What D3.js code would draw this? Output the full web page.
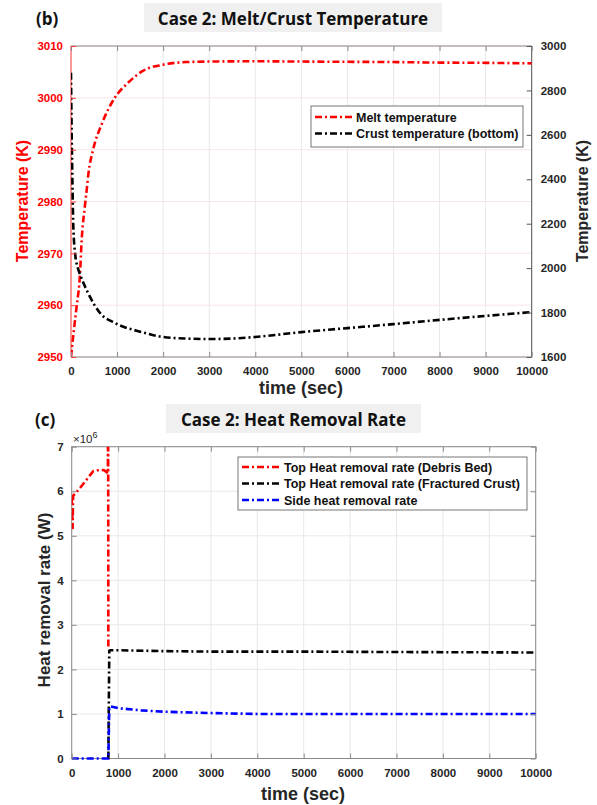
<!DOCTYPE html>
<html>
<head>
<meta charset="utf-8">
<script src="https://d3js.org/d3.v7.min.js"></script>
<style>
  body { margin: 0; background: #fff; }
  svg { display: block; }
  .tick text { font-family: "Liberation Sans", Arial, sans-serif; font-weight: bold; font-size: 11.5px; }
</style>
</head>
<body>
<svg id="chart" width="597" height="805"></svg>
<script>
// ---- data (b) melt / crust temperature ----
var meltTime = [0, 60, 120, 195, 232, 300, 340, 380, 480, 670, 950, 1250, 1560, 2000, 2500, 3000, 4000, 5000, 6000, 7000, 8000, 9000, 10000];
var meltTemp = [2950, 2955, 2959.6, 2966, 2972.6, 2979, 2982.2, 2985.5, 2990, 2995, 3000, 3003, 3005.2, 3006.4, 3006.9, 3007, 3007.05, 3007, 3006.95, 3006.9, 3006.8, 3006.75, 3006.65];
var crustTime = [0, 15, 30, 50, 90, 150, 200, 370, 630, 955, 1540, 2000, 2500, 3000, 3500, 4000, 5000, 6000, 7000, 8000, 9000, 10000];
var crustTemp = [2880, 2600, 2400, 2190, 2065, 2000, 1970, 1888, 1798, 1753, 1712, 1690, 1683, 1681, 1683, 1690, 1712, 1730, 1748, 1767, 1785, 1802];
var leftTicks = [2950, 2960, 2970, 2980, 2990, 3000, 3010];
var rightTicks = [1600, 1800, 2000, 2200, 2400, 2600, 2800, 3000];
var timeTicks = [0, 1000, 2000, 3000, 4000, 5000, 6000, 7000, 8000, 9000, 10000];

// ---- data (c) heat removal rate, x10^6 W ----
var debrisTime = [0, 10, 20, 30, 70, 200, 350, 465, 600, 700, 760, 780, 785, 790];
var debrisRate = [5.85, 5.5, 5.15, 5.9, 5.94, 6.1, 6.3, 6.45, 6.48, 6.47, 6.42, 6.4, 9.0, 2.45];
var fcrustTime = [790, 810, 830, 1000, 2000, 3000, 5000, 7000, 10000];
var fcrustRate = [0, 2.42, 2.43, 2.43, 2.41, 2.40, 2.40, 2.39, 2.38];
var sideTime = [0, 790, 810, 825, 1000, 1500, 2000, 3000, 4000, 5000, 7000, 10000];
var sideRate = [0, 0, 1.15, 1.17, 1.13, 1.08, 1.05, 1.02, 1.0, 1.0, 1.0, 1.0];
var rateTicks = [0, 1, 2, 3, 4, 5, 6, 7];

var svg = d3.select("#chart");
var dash = "7,3,2,3";
var textCol = "#262626";
var spineCol = "#8a8a8a";
var gridCol = "#e8e8e8";

function zip(xs, ys) { return xs.map(function (x, i) { return [x, ys[i]]; }); }

function titleBox(x0, x1, y0, y1, label, tag, tagX) {
    svg.append("rect").attr("x", x0).attr("y", y0).attr("width", x1 - x0).attr("height", y1 - y0)
        .attr("fill", "#f0f0f0");
    svg.append("text").attr("x", (x0 + x1) / 2).attr("y", y1 - 7).attr("text-anchor", "middle")
        .style("font-family", "'Open Sans', sans-serif").style("font-weight", "bold").style("font-size", "17px")
        .attr("fill", "#111").text(label);
    svg.append("text").attr("x", tagX).attr("y", y1 - 7)
        .style("font-family", "'Open Sans', sans-serif").style("font-weight", "bold").style("font-size", "17px")
        .attr("fill", "#111").text(tag);
}

function axisLabel(x, y, rot, label, col, size) {
    svg.append("text").attr("transform", "translate(" + x + "," + y + ") rotate(" + rot + ")")
        .attr("text-anchor", "middle")
        .style("font-family", "'Liberation Sans', Arial, sans-serif").style("font-weight", "bold")
        .style("font-size", size + "px").attr("fill", col).text(label);
}

function styleAxis(g, col, lineCol) {
    g.select(".domain").remove();
    g.selectAll(".tick line").attr("stroke", lineCol);
    g.selectAll(".tick text").attr("fill", col);
}

// ================= chart (b) =================
var b = {left: 71, right: 531.7, top: 46, bottom: 357};
var xb = d3.scaleLinear().domain([0, 10000]).range([b.left, b.right]);
var yl = d3.scaleLinear().domain([2950, 3010]).range([b.bottom, b.top]);
var yr = d3.scaleLinear().domain([1600, 3000]).range([b.bottom, b.top]);

titleBox(144, 442, 3, 32, "Case 2: Melt/Crust Temperature", "(b)", 36);

var gb = svg.append("g");
gb.selectAll(".vg").data(timeTicks).enter().append("line")
    .attr("x1", function (d) { return xb(d); }).attr("x2", function (d) { return xb(d); })
    .attr("y1", b.top).attr("y2", b.bottom).attr("stroke", gridCol);
gb.selectAll(".hg").data(leftTicks).enter().append("line")
    .attr("x1", b.left).attr("x2", b.right)
    .attr("y1", function (d) { return yl(d); }).attr("y2", function (d) { return yl(d); })
    .attr("stroke", "#fbe4e4");

svg.append("clipPath").attr("id", "clipB").append("rect")
    .attr("x", b.left).attr("y", b.top).attr("width", b.right - b.left).attr("height", b.bottom - b.top);

// spines
gb.append("line").attr("x1", b.left).attr("x2", b.right).attr("y1", b.top).attr("y2", b.top).attr("stroke", spineCol);
gb.append("line").attr("x1", b.left).attr("x2", b.right).attr("y1", b.bottom).attr("y2", b.bottom).attr("stroke", spineCol);
gb.append("line").attr("x1", b.right).attr("x2", b.right).attr("y1", b.top).attr("y2", b.bottom).attr("stroke", "#555");
gb.append("line").attr("x1", b.left).attr("x2", b.left).attr("y1", b.top).attr("y2", b.bottom).attr("stroke", "#ff4040");

var lineL = d3.line().x(function (d) { return xb(d[0]); }).y(function (d) { return yl(d[1]); }).curve(d3.curveMonotoneX);
var lineR = d3.line().x(function (d) { return xb(d[0]); }).y(function (d) { return yr(d[1]); }).curve(d3.curveMonotoneX);

gb.append("path").datum(zip(meltTime, meltTemp)).attr("d", lineL).attr("clip-path", "url(#clipB)")
    .attr("fill", "none").attr("stroke", "#ff0000").attr("stroke-width", 2.6).attr("stroke-dasharray", dash);
gb.append("path").datum(zip(crustTime, crustTemp)).attr("d", lineR).attr("clip-path", "url(#clipB)")
    .attr("fill", "none").attr("stroke", "#000").attr("stroke-width", 2.6).attr("stroke-dasharray", dash);

var axB = gb.append("g").attr("transform", "translate(0," + b.bottom + ")")
    .call(d3.axisBottom(xb).tickValues(timeTicks).tickFormat(d3.format("d")).tickSizeInner(-5).tickPadding(10));
styleAxis(axB, textCol, spineCol);
var axBt = gb.append("g").attr("transform", "translate(0," + b.top + ")")
    .call(d3.axisTop(xb).tickValues(timeTicks).tickFormat("").tickSizeInner(-5));
styleAxis(axBt, textCol, spineCol);
var axL = gb.append("g").attr("transform", "translate(" + b.left + ",0)")
    .call(d3.axisLeft(yl).tickValues(leftTicks).tickFormat(d3.format("d")).tickSizeInner(-5).tickPadding(8));
styleAxis(axL, "#ff0000", "#ff4040");
var axR = gb.append("g").attr("transform", "translate(" + b.right + ",0)")
    .call(d3.axisRight(yr).tickValues(rightTicks).tickFormat(d3.format("d")).tickSizeInner(-5).tickPadding(9));
styleAxis(axR, textCol, "#555");

axisLabel(28, 201, -90, "Temperature (K)", "#ff0000", 16);
axisLabel(588, 201, -90, "Temperature (K)", textCol, 16);
axisLabel(301, 394, 0, "time (sec)", textCol, 18);

// legend (b)
var lgb = gb.append("g");
lgb.append("rect").attr("x", 311).attr("y", 106).attr("width", 212).attr("height", 41)
    .attr("fill", "#fff").attr("stroke", "#777");
var legB = [{name: "Melt temperature", col: "#ff0000"}, {name: "Crust temperature (bottom)", col: "#000"}];
legB.forEach(function (d, i) {
    var y = 117 + i * 16.5;
    lgb.append("line").attr("x1", 315).attr("x2", 353).attr("y1", y).attr("y2", y)
        .attr("stroke", d.col).attr("stroke-width", 2.6).attr("stroke-dasharray", dash);
    lgb.append("text").attr("x", 356).attr("y", y + 4.5)
        .style("font-family", "'Liberation Sans', Arial, sans-serif").style("font-weight", "bold").style("font-size", "12.5px")
        .attr("fill", "#111").text(d.name);
});

// ================= chart (c) =================
var c = {left: 71.7, right: 535.7, top: 446.7, bottom: 758.5};
var xc = d3.scaleLinear().domain([0, 10000]).range([c.left, c.right]);
var yc = d3.scaleLinear().domain([0, 7]).range([c.bottom, c.top]);

titleBox(166, 421, 404, 433, "Case 2: Heat Removal Rate", "(c)", 35);

var gc = svg.append("g");
gc.selectAll(".vg").data(timeTicks).enter().append("line")
    .attr("x1", function (d) { return xc(d); }).attr("x2", function (d) { return xc(d); })
    .attr("y1", c.top).attr("y2", c.bottom).attr("stroke", gridCol);
gc.selectAll(".hg").data(rateTicks).enter().append("line")
    .attr("x1", c.left).attr("x2", c.right)
    .attr("y1", function (d) { return yc(d); }).attr("y2", function (d) { return yc(d); })
    .attr("stroke", gridCol);

svg.append("clipPath").attr("id", "clipC").append("rect")
    .attr("x", c.left).attr("y", c.top).attr("width", c.right - c.left).attr("height", c.bottom - c.top + 2);

gc.append("rect").attr("x", c.left).attr("y", c.top).attr("width", c.right - c.left).attr("height", c.bottom - c.top)
    .attr("fill", "none").attr("stroke", spineCol);

var lineC = d3.line().x(function (d) { return xc(d[0]); }).y(function (d) { return yc(d[1]); });
var seriesC = [
    {name: "Top Heat removal rate (Debris Bed)", col: "#ff0000", t: debrisTime, v: debrisRate},
    {name: "Top Heat removal rate (Fractured Crust)", col: "#000", t: fcrustTime, v: fcrustRate},
    {name: "Side heat removal rate", col: "#0000ff", t: sideTime, v: sideRate}
];
seriesC.forEach(function (s) {
    gc.append("path").datum(zip(s.t, s.v)).attr("d", lineC).attr("clip-path", "url(#clipC)")
        .attr("fill", "none").attr("stroke", s.col).attr("stroke-width", 2.6).attr("stroke-dasharray", dash);
});

var axCb = gc.append("g").attr("transform", "translate(0," + c.bottom + ")")
    .call(d3.axisBottom(xc).tickValues(timeTicks).tickFormat(d3.format("d")).tickSizeInner(-5).tickPadding(10));
styleAxis(axCb, textCol, spineCol);
var axCt = gc.append("g").attr("transform", "translate(0," + c.top + ")")
    .call(d3.axisTop(xc).tickValues(timeTicks).tickFormat("").tickSizeInner(-5));
styleAxis(axCt, textCol, spineCol);
var axCl = gc.append("g").attr("transform", "translate(" + c.left + ",0)")
    .call(d3.axisLeft(yc).tickValues(rateTicks).tickFormat(d3.format("d")).tickSizeInner(-5).tickPadding(8));
styleAxis(axCl, textCol, spineCol);
var axCr = gc.append("g").attr("transform", "translate(" + c.right + ",0)")
    .call(d3.axisRight(yc).tickValues(rateTicks).tickFormat("").tickSizeInner(-5));
styleAxis(axCr, textCol, spineCol);

var exp = gc.append("text").attr("x", 73).attr("y", 443)
    .style("font-family", "'Liberation Sans', Arial, sans-serif").style("font-size", "11.5px").attr("fill", textCol);
exp.append("tspan").text("\u00d710");
exp.append("tspan").attr("dy", -5).style("font-size", "9px").text("6");

axisLabel(50, 600, -90, "Heat removal rate (W)", textCol, 17);
axisLabel(303, 800, 0, "time (sec)", textCol, 18);

// legend (c)
var lgc = gc.append("g");
lgc.append("rect").attr("x", 238).attr("y", 457).attr("width", 289).attr("height", 53)
    .attr("fill", "#fff").attr("stroke", "#777");
seriesC.forEach(function (d, i) {
    var y = 467 + i * 16.5;
    lgc.append("line").attr("x1", 242).attr("x2", 281).attr("y1", y).attr("y2", y)
        .attr("stroke", d.col).attr("stroke-width", 2.6).attr("stroke-dasharray", dash);
    lgc.append("text").attr("x", 284).attr("y", y + 4.5)
        .style("font-family", "'Liberation Sans', Arial, sans-serif").style("font-weight", "bold").style("font-size", "12.5px")
        .attr("fill", "#111").text(d.name);
});
</script>
</body>
</html>
